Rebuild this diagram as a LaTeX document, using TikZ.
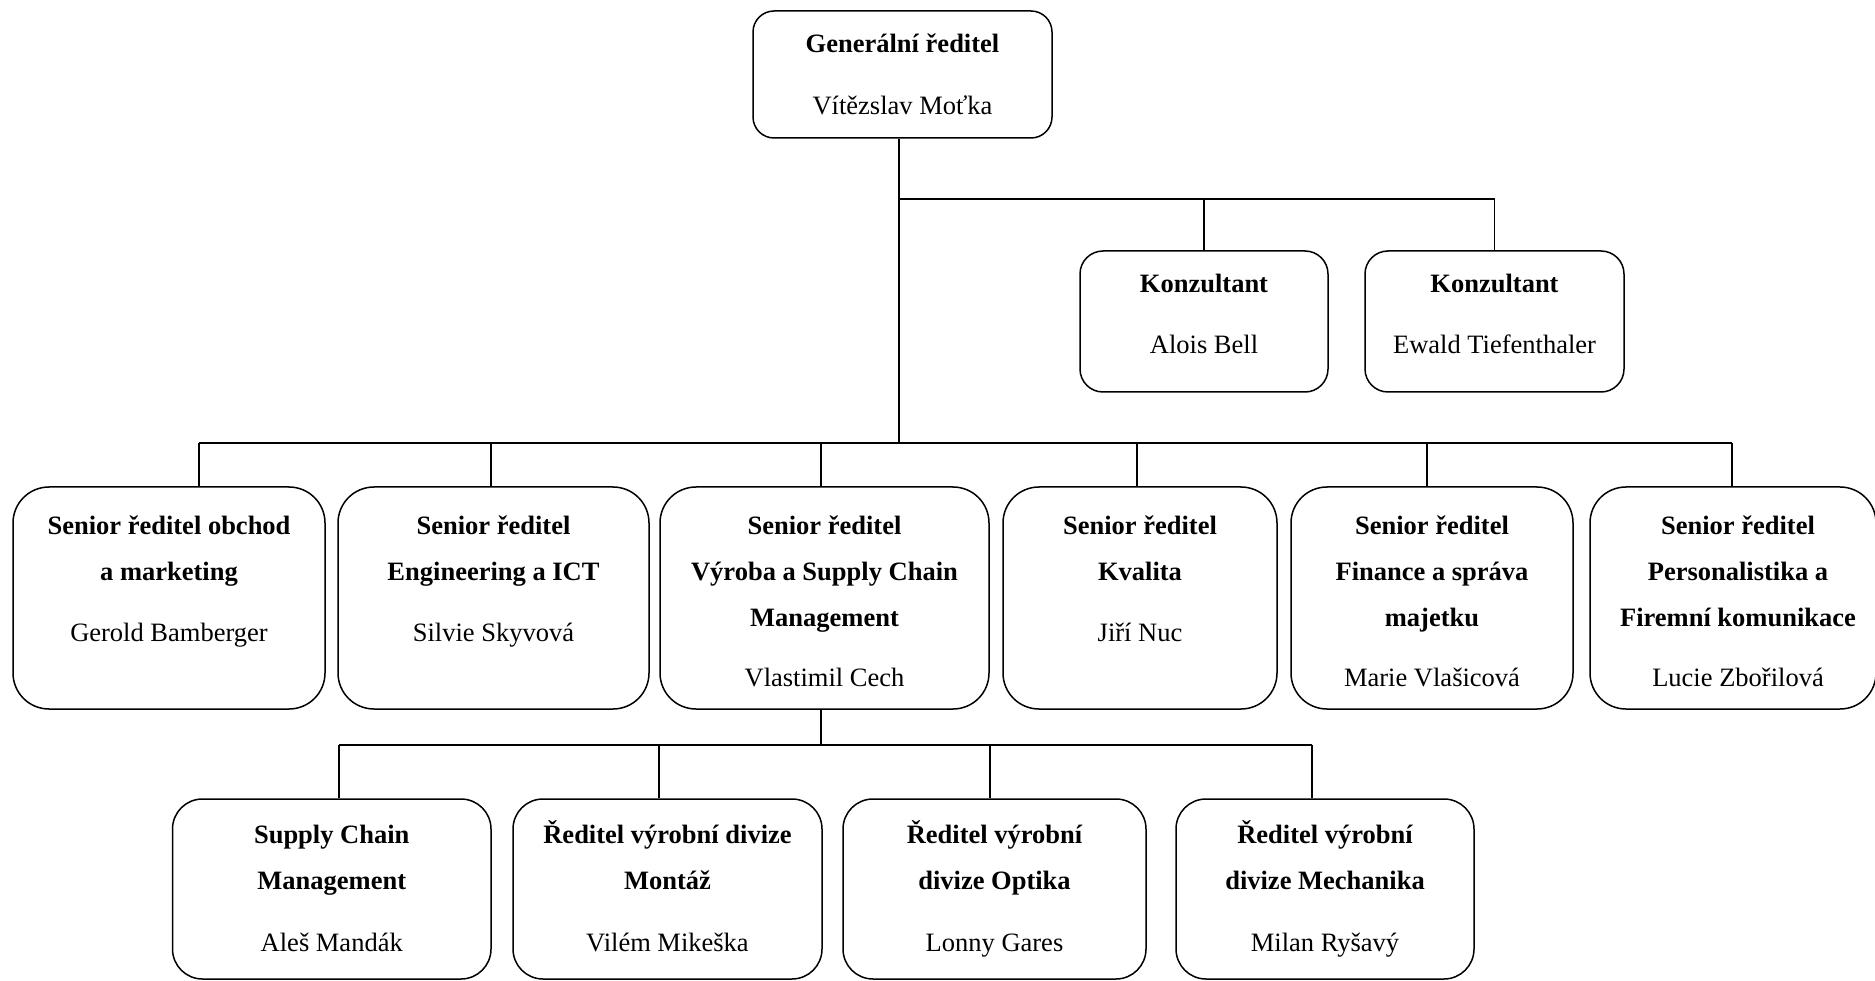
\documentclass[tikz,border=0pt]{standalone}
\usepackage{fontspec}
\setmainfont{Liberation Serif}
\begin{document}
\begin{tikzpicture}[x=1pt,y=-1pt,
  orgbox/.style={draw, line width=1.5pt, inner sep=0pt, rounded corners=#1},
  txt/.style={anchor=base, inner sep=0pt, font=\fontsize{26.5}{30}\selectfont},
  ttl/.style={anchor=base, inner sep=0pt, font=\fontsize{26.5}{30}\selectfont\bfseries},
  link/.style={line width=1.5pt}]
\useasboundingbox (0,0) rectangle (1875,981);
% ---- boxes
\node[orgbox=21pt, minimum width=299pt, minimum height=127pt] (gr) at (902.5,74.5) {};
\node[orgbox=23pt, minimum width=248pt, minimum height=141pt] (k1) at (1204,321.5) {};
\node[orgbox=23pt, minimum width=259pt, minimum height=141pt] (k2) at (1494.5,321.5) {};
\node[orgbox=36pt, minimum width=312pt, minimum height=222pt] (b1) at (169,598) {};
\node[orgbox=36pt, minimum width=311pt, minimum height=222pt] (b2) at (493.5,598) {};
\node[orgbox=36pt, minimum width=329pt, minimum height=222pt] (b3) at (824.5,598) {};
\node[orgbox=36pt, minimum width=274pt, minimum height=222pt] (b4) at (1140,598) {};
\node[orgbox=36pt, minimum width=282pt, minimum height=222pt] (b5) at (1432,598) {};
\node[orgbox=36pt, minimum width=286pt, minimum height=222pt] (b6) at (1733,598) {};
\node[orgbox=30pt, minimum width=318.5pt, minimum height=180pt] (c1) at (331.75,889) {};
\node[orgbox=30pt, minimum width=309pt, minimum height=180pt] (c2) at (667.5,889) {};
\node[orgbox=30pt, minimum width=303pt, minimum height=180pt] (c3) at (994.5,889) {};
\node[orgbox=30pt, minimum width=298pt, minimum height=180pt] (c4) at (1325,889) {};
% ---- texts
\node[ttl] (gr1) at (902.5,53) {Generální ředitel};
\node[txt] (gr2) at (902.5,115) {Vítězslav Moťka};
\node[ttl] (k1a) at (1204,293) {Konzultant};
\node[txt] (k1b) at (1204,354) {Alois Bell};
\node[ttl] (k2a) at (1494.5,293) {Konzultant};
\node[txt] (k2b) at (1494.5,354) {Ewald Tiefenthaler};
\node[ttl] (b1a) at (169,534) {Senior ředitel obchod};
\node[ttl] (b1b) at (169,580) {a marketing};
\node[txt] (b1n) at (169,641) {Gerold Bamberger};
\node[ttl] (b2a) at (493.5,534) {Senior ředitel};
\node[ttl] (b2b) at (493.5,580) {Engineering a ICT};
\node[txt] (b2n) at (493.5,641) {Silvie Skyvová};
\node[ttl] (b3a) at (824.5,534) {Senior ředitel};
\node[ttl] (b3b) at (824.5,580) {Výroba a Supply Chain};
\node[ttl] (b3c) at (824.5,626) {Management};
\node[txt] (b3n) at (824.5,686) {Vlastimil Cech};
\node[ttl] (b4a) at (1140,534) {Senior ředitel};
\node[ttl] (b4b) at (1140,580) {Kvalita};
\node[txt] (b4n) at (1140,641) {Jiří Nuc};
\node[ttl] (b5a) at (1432,534) {Senior ředitel};
\node[ttl] (b5b) at (1432,580) {Finance a správa};
\node[ttl] (b5c) at (1432,626) {majetku};
\node[txt] (b5n) at (1432,686) {Marie Vlašicová};
\node[ttl] (b6a) at (1738,534) {Senior ředitel};
\node[ttl] (b6b) at (1738,580) {Personalistika a};
\node[ttl] (b6c) at (1738,626) {Firemní komunikace};
\node[txt] (b6n) at (1738,686) {Lucie Zbořilová};
\node[ttl] (c1a) at (331.75,843) {Supply Chain};
\node[ttl] (c1b) at (331.75,889) {Management};
\node[txt] (c1n) at (331.75,951) {Aleš Mandák};
\node[ttl] (c2a) at (667.5,843) {Ředitel výrobní divize};
\node[ttl] (c2b) at (667.5,889) {Montáž};
\node[txt] (c2n) at (667.5,951) {Vilém Mikeška};
\node[ttl] (c3a) at (994.5,843) {Ředitel výrobní};
\node[ttl] (c3b) at (994.5,889) {divize Optika};
\node[txt] (c3n) at (994.5,951) {Lonny Gares};
\node[ttl] (c4a) at (1325,843) {Ředitel výrobní};
\node[ttl] (c4b) at (1325,889) {divize Mechanika};
\node[txt] (c4n) at (1325,951) {Milan Ryšavý};
% ---- connector coordinates
\coordinate (t0) at (899,443);
\coordinate (kb) at (899,199);
\coordinate (d1) at (199,443);
\coordinate (d2) at (491,443);
\coordinate (d3) at (821,443);
\coordinate (d4) at (1137,443);
\coordinate (d5) at (1427,443);
\coordinate (d6) at (1732,443);
\coordinate (s0) at (821,745);
\coordinate (e1) at (339,745);
\coordinate (e2) at (659,745);
\coordinate (e3) at (990,745);
\coordinate (e4) at (1312,745);
% ---- connectors
\draw[link] (gr.south -| t0) -- (t0);
\draw[link] (kb) -- (kb -| k2.north) -- (k2.north);
\draw[link] (kb -| k1.north) -- (k1.north);
\draw[link] (d1) -- (d6);
\foreach \d/\b in {d1/b1,d2/b2,d3/b3,d4/b4,d5/b5,d6/b6}
  \draw[link] (\d) -- (\d |- \b.north);
\draw[link] (s0 |- b3.south) -- (s0);
\draw[link] (e1) -- (e4);
\foreach \e/\c in {e1/c1,e2/c2,e3/c3,e4/c4}
  \draw[link] (\e) -- (\e |- \c.north);
\end{tikzpicture}
\end{document}
